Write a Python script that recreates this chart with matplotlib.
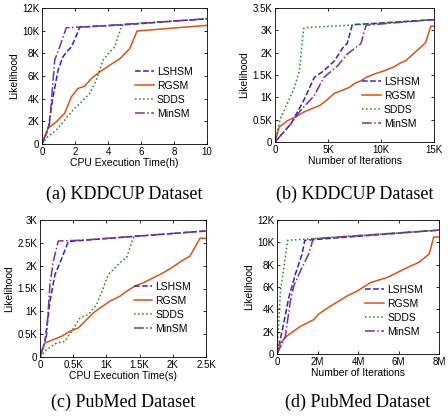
import matplotlib
matplotlib.use('Agg')
import matplotlib.pyplot as plt
import numpy as np

plt.rcParams['font.family'] = ['Liberation Sans', 'DejaVu Sans']

# %% data, panel (a) KDDCUP vs CPU time (h)
a_lsh_x = [0, 0.36, 0.67, 0.97, 1.27, 1.58, 1.78, 2.22, 2.28, 5.0, 10]
a_lsh_y = [0, 1230, 4160, 6500, 7700, 8270, 8560, 10030, 10300, 10520, 11050]
a_rg_x = [0, 0.36, 0.87, 1.37, 1.78, 2.18, 2.59, 2.99, 3.5, 4.1, 4.7, 5.31, 5.76, 10]
a_rg_y = [0, 1380, 1960, 2700, 4160, 4900, 5100, 5780, 6360, 6950, 7500, 8400, 9970, 10470]
a_sd_x = [0, 0.36, 0.87, 1.37, 1.88, 2.38, 2.89, 3.29, 3.7, 4.1, 4.4, 4.8, 4.95, 10]
a_sd_y = [0, 650, 1230, 2100, 3000, 3700, 4460, 5630, 7400, 8100, 8560, 10300, 10550, 11050]
a_min_x = [0, 0.46, 0.77, 1.07, 1.47, 4.1, 10]
a_min_y = [0, 1800, 7400, 8560, 10260, 10470, 11050]

# %% panel (b) KDDCUP vs iterations
b_lsh_x = [0, 1500, 2700, 3700, 4600, 5600, 6400, 6800, 7300, 8700, 15000]
b_lsh_y = [0, 407, 926, 1444, 1593, 1815, 2111, 2200, 2630, 2644, 2740]
b_rg_x = [0, 400, 1200, 1900, 2700, 3400, 4200, 4900, 5600, 6400, 7000, 7500, 8100,
          8700, 9500, 10300, 11200, 11900, 12300, 13000, 13700, 14200, 14700, 15000]
b_rg_y = [0, 333, 481, 556, 667, 741, 815, 941, 1089, 1163, 1222, 1311, 1370,
          1459, 1533, 1593, 1681, 1778, 1815, 1963, 2111, 2222, 2593, 2593]
b_sd_x = [0, 500, 1800, 2300, 2700, 3000, 8100, 15000]
b_sd_y = [0, 520, 1200, 1600, 2540, 2560, 2630, 2740]
b_min_x = [0, 1500, 2400, 3700, 4600, 5900, 6800, 7600, 8100, 8600, 15000]
b_min_y = [0, 407, 704, 1037, 1444, 1704, 1963, 2111, 2200, 2615, 2740]
b_yticks = [0, 500, 1000, 1500, 2000, 2500, 3000]
b_ylabels = ['0', '0.5K', '1K', '1.5K', '2K', '3K', '3.5K']

# %% panel (c) PubMed vs CPU time (s)
c_lsh_x = [0, 75, 150, 226, 301, 427, 2500]
c_lsh_y = [0, 344, 1222, 1808, 2064, 2530, 2760]
c_rg_x = [0, 75, 201, 326, 452, 577, 678, 803, 904, 1054, 1205, 1305, 1431, 1556,
          1707, 1857, 1983, 2133, 2259, 2359, 2409, 2500]
c_rg_y = [0, 307, 381, 454, 564, 637, 783, 966, 1076, 1222, 1332, 1442, 1552, 1625,
          1735, 1845, 1955, 2101, 2211, 2467, 2599, 2599]
c_sd_x = [0, 100, 251, 376, 477, 602, 728, 853, 954, 1029, 1130, 1230, 1305, 1355,
          1406, 1431]
c_sd_y = [0, 161, 307, 344, 564, 857, 930, 1149, 1515, 1808, 1955, 2101, 2174, 2394,
          2614, 2640]
c_min_x = [0, 100, 150, 201, 276, 653, 2500]
c_min_y = [0, 490, 1589, 2101, 2540, 2560, 2760]

# %% panel (d) PubMed vs iterations
d_lsh_x = [0, 0.25e6, 0.58e6, 0.91e6, 1.24e6, 1.37e6, 8e6]
d_lsh_y = [0, 2020, 5040, 7160, 8970, 10180, 11090]
d_rg_x = [0, 0.17e6, 0.5e6, 1.16e6, 1.82e6, 2.07e6, 2.64e6, 3.47e6, 3.97e6, 4.63e6,
          5.45e6, 5.79e6, 6.45e6, 7.02e6, 7.52e6, 7.74e6, 8e6]
d_rg_y = [0, 970, 1630, 2480, 3080, 3600, 4290, 5200, 5650, 6400,
          6860, 7160, 7760, 8220, 8970, 10480, 10480]
d_sd_x = [0, 0.17e6, 0.53e6, 1.32e6, 8e6]
d_sd_y = [0, 5650, 10180, 10270, 11090]
d_min_x = [0, 0.41e6, 0.66e6, 0.83e6, 1.24e6, 1.57e6, 1.79e6, 8e6]
d_min_y = [0, 1570, 4740, 6100, 7760, 8970, 10330, 11090]

names = ['LSHSM', 'RGSM', 'SDDS', 'MinSM']
colors = ['#2424d8', '#d95319', '#1a8a1a', '#7e2f8e']
styles = ['--', '-', ':', '-.']


def kfmt(v, unit='K', div=1000):
    if v == 0:
        return '0'
    s = '%g' % (v / div)
    return s + unit


fig = plt.figure(figsize=[4.48, 4.16], dpi=100)
W, H = 448.0, 416.0
boxes = [(42, 8, 207, 144), (275, 8, 434, 142), (40, 220, 206, 357), (277, 220, 439, 354)]
panels = [
    [(a_lsh_x, a_lsh_y), (a_rg_x, a_rg_y), (a_sd_x, a_sd_y), (a_min_x, a_min_y)],
    [(b_lsh_x, b_lsh_y), (b_rg_x, b_rg_y), (b_sd_x, b_sd_y), (b_min_x, b_min_y)],
    [(c_lsh_x, c_lsh_y), (c_rg_x, c_rg_y), (c_sd_x, c_sd_y), (c_min_x, c_min_y)],
    [(d_lsh_x, d_lsh_y), (d_rg_x, d_rg_y), (d_sd_x, d_sd_y), (d_min_x, d_min_y)],
]
xlabels = ['CPU Execution Time(h)', 'Number of Iterations',
           'CPU Execution Time(s)', 'Number of Iterations']
captions = ['(a) KDDCUP Dataset', '(b) KDDCUP Dataset',
            '(c) PubMed Dataset', '(d) PubMed Dataset']
cap_y = [194, 194, 402, 402]
leg_anchor = [(0.52, 0.62), (0.5, 0.54), (0.52, 0.6), (0.5, 0.57)]

for i, (l, t, r, b) in enumerate(boxes):
    ax = fig.add_axes([l / W, 1 - b / H, (r - l) / W, (b - t) / H])
    for k, (x, y) in enumerate(panels[i]):
        ax.plot(x, y, styles[k], color=colors[k], lw=1.1, label=names[k])
    ax.tick_params(direction='in', top=True, right=True, labelsize=7, length=2.5,
                   width=0.6, pad=2)
    for s in ax.spines.values():
        s.set_linewidth(0.6)
    if i == 0:
        ax.set_xlim(0, 10)
        ax.set_ylim(0, 12000)
        ax.set_xticks([0, 2, 4, 6, 8, 10])
        yt = np.arange(0, 12001, 2000)
        ax.set_yticks(yt)
        ax.set_yticklabels([kfmt(v) for v in yt])
    elif i == 1:
        ax.set_xlim(0, 15000)
        ax.set_ylim(0, 3000)
        xt = [0, 5000, 10000, 15000]
        ax.set_xticks(xt)
        ax.set_xticklabels([kfmt(v) for v in xt])
        ax.set_yticks(b_yticks)
        ax.set_yticklabels(b_ylabels)
    elif i == 2:
        ax.set_xlim(0, 2500)
        ax.set_ylim(0, 3000)
        xt = [0, 500, 1000, 1500, 2000, 2500]
        ax.set_xticks(xt)
        ax.set_xticklabels([kfmt(v) for v in xt])
        yt = np.arange(0, 3001, 500)
        ax.set_yticks(yt)
        ax.set_yticklabels([kfmt(v) for v in yt])
    else:
        ax.set_xlim(0, 8e6)
        ax.set_ylim(0, 12000)
        xt = [0, 2e6, 4e6, 6e6, 8e6]
        ax.set_xticks(xt)
        ax.set_xticklabels([kfmt(v, 'M', 1e6) for v in xt])
        yt = np.arange(0, 12001, 2000)
        ax.set_yticks(yt)
        ax.set_yticklabels([kfmt(v) for v in yt])
    ax.set_xlabel(xlabels[i], fontsize=7.5, labelpad=1)
    ax.set_ylabel('Likelihood', fontsize=7.5, labelpad=2)
    ax.legend(loc='upper left', bbox_to_anchor=leg_anchor[i], frameon=False,
              fontsize=7.5, handlelength=1.8, handletextpad=0.3, labelspacing=0.38,
              borderpad=0.2)
    fig.text(((l + r) / 2) / W, 1 - cap_y[i] / H, captions[i], ha='center',
             va='center', fontsize=13, family='Liberation Serif')

plt.savefig('out.png', dpi=100)
